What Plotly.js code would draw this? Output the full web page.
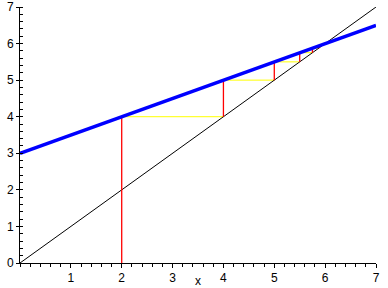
<!DOCTYPE html>
<html><head><meta charset="utf-8">
<script src="https://cdn.plot.ly/plotly-3.0.1.min.js"></script>
<style>html,body{margin:0;padding:0;background:#fff;}</style>
</head><body>
<div id="chart" style="width:388px;height:288px;"></div>
<script>
// Lines
const lineX = [0, 7];
const identityY = [0, 7];
const mapY = [3, 6.5];           // y = 3 + x/2
// Cobweb iterates
const iterX = [2, 4, 5, 5.5, 5.75, 5.875];
const vertBottom = [0, 4, 5, 5.5, 5.75, 5.875];
const vertTop = [4, 5, 5.5, 5.75, 5.875, 5.9375];
const xTicks = [1, 2, 3, 4, 5, 6, 7];
const yTicks = [0, 1, 2, 3, 4, 5, 6, 7];

const vx = [], vy = [], hx = [], hy = [];
for (let i = 0; i < iterX.length; i++) {
  vx.push(iterX[i], iterX[i], null);
  vy.push(vertBottom[i], vertTop[i], null);
  if (i + 1 < iterX.length) {
    hx.push(iterX[i], iterX[i + 1], null);
    hy.push(vertTop[i], vertTop[i], null);
  }
}

const traces = [
  {x: hx, y: hy, mode: 'lines', line: {color: '#ffff00', width: 1}, hoverinfo: 'skip'},
  {x: lineX, y: identityY, mode: 'lines', line: {color: '#000000', width: 1}, hoverinfo: 'skip'},
  {x: vx, y: vy, mode: 'lines', line: {color: '#ff0000', width: 1.3}, hoverinfo: 'skip'},
  {x: lineX, y: mapY, mode: 'lines', line: {color: '#0000ff', width: 3.5}, hoverinfo: 'skip'}
];

const font = {family: 'Liberation Sans, DejaVu Sans, sans-serif', size: 12, color: '#000'};
const layout = {
  width: 388, height: 288,
  margin: {l: 20, r: 12, t: 7, b: 25},
  paper_bgcolor: '#fff', plot_bgcolor: '#fff',
  showlegend: false,
  font: font,
  xaxis: {
    range: [0, 7], showgrid: false, zeroline: false,
    showline: true, linecolor: '#000', linewidth: 1,
    tickmode: 'array', tickvals: xTicks, ticktext: xTicks.map(String),
    ticks: 'outside', ticklen: 4, tickcolor: '#000', tickwidth: 1,
    minor: {dtick: 0.2, tick0: 0, ticks: 'outside', ticklen: 3, tickcolor: '#000', showgrid: false},
    tickfont: font,
    title: {text: 'x', font: font, standoff: 0},
    fixedrange: true
  },
  yaxis: {
    range: [0, 7], showgrid: false, zeroline: false,
    showline: true, linecolor: '#000', linewidth: 1,
    tickmode: 'array', tickvals: yTicks, ticktext: yTicks.map(String),
    ticks: 'outside', ticklen: 3, tickcolor: '#000', tickwidth: 1,
    minor: {dtick: 0.2, tick0: 0, ticks: 'inside', ticklen: 3, tickcolor: '#000', showgrid: false},
    tickfont: font,
    fixedrange: true
  }
};
Plotly.newPlot('chart', traces, layout, {displayModeBar: false, staticPlot: true});
</script>
</body></html>
